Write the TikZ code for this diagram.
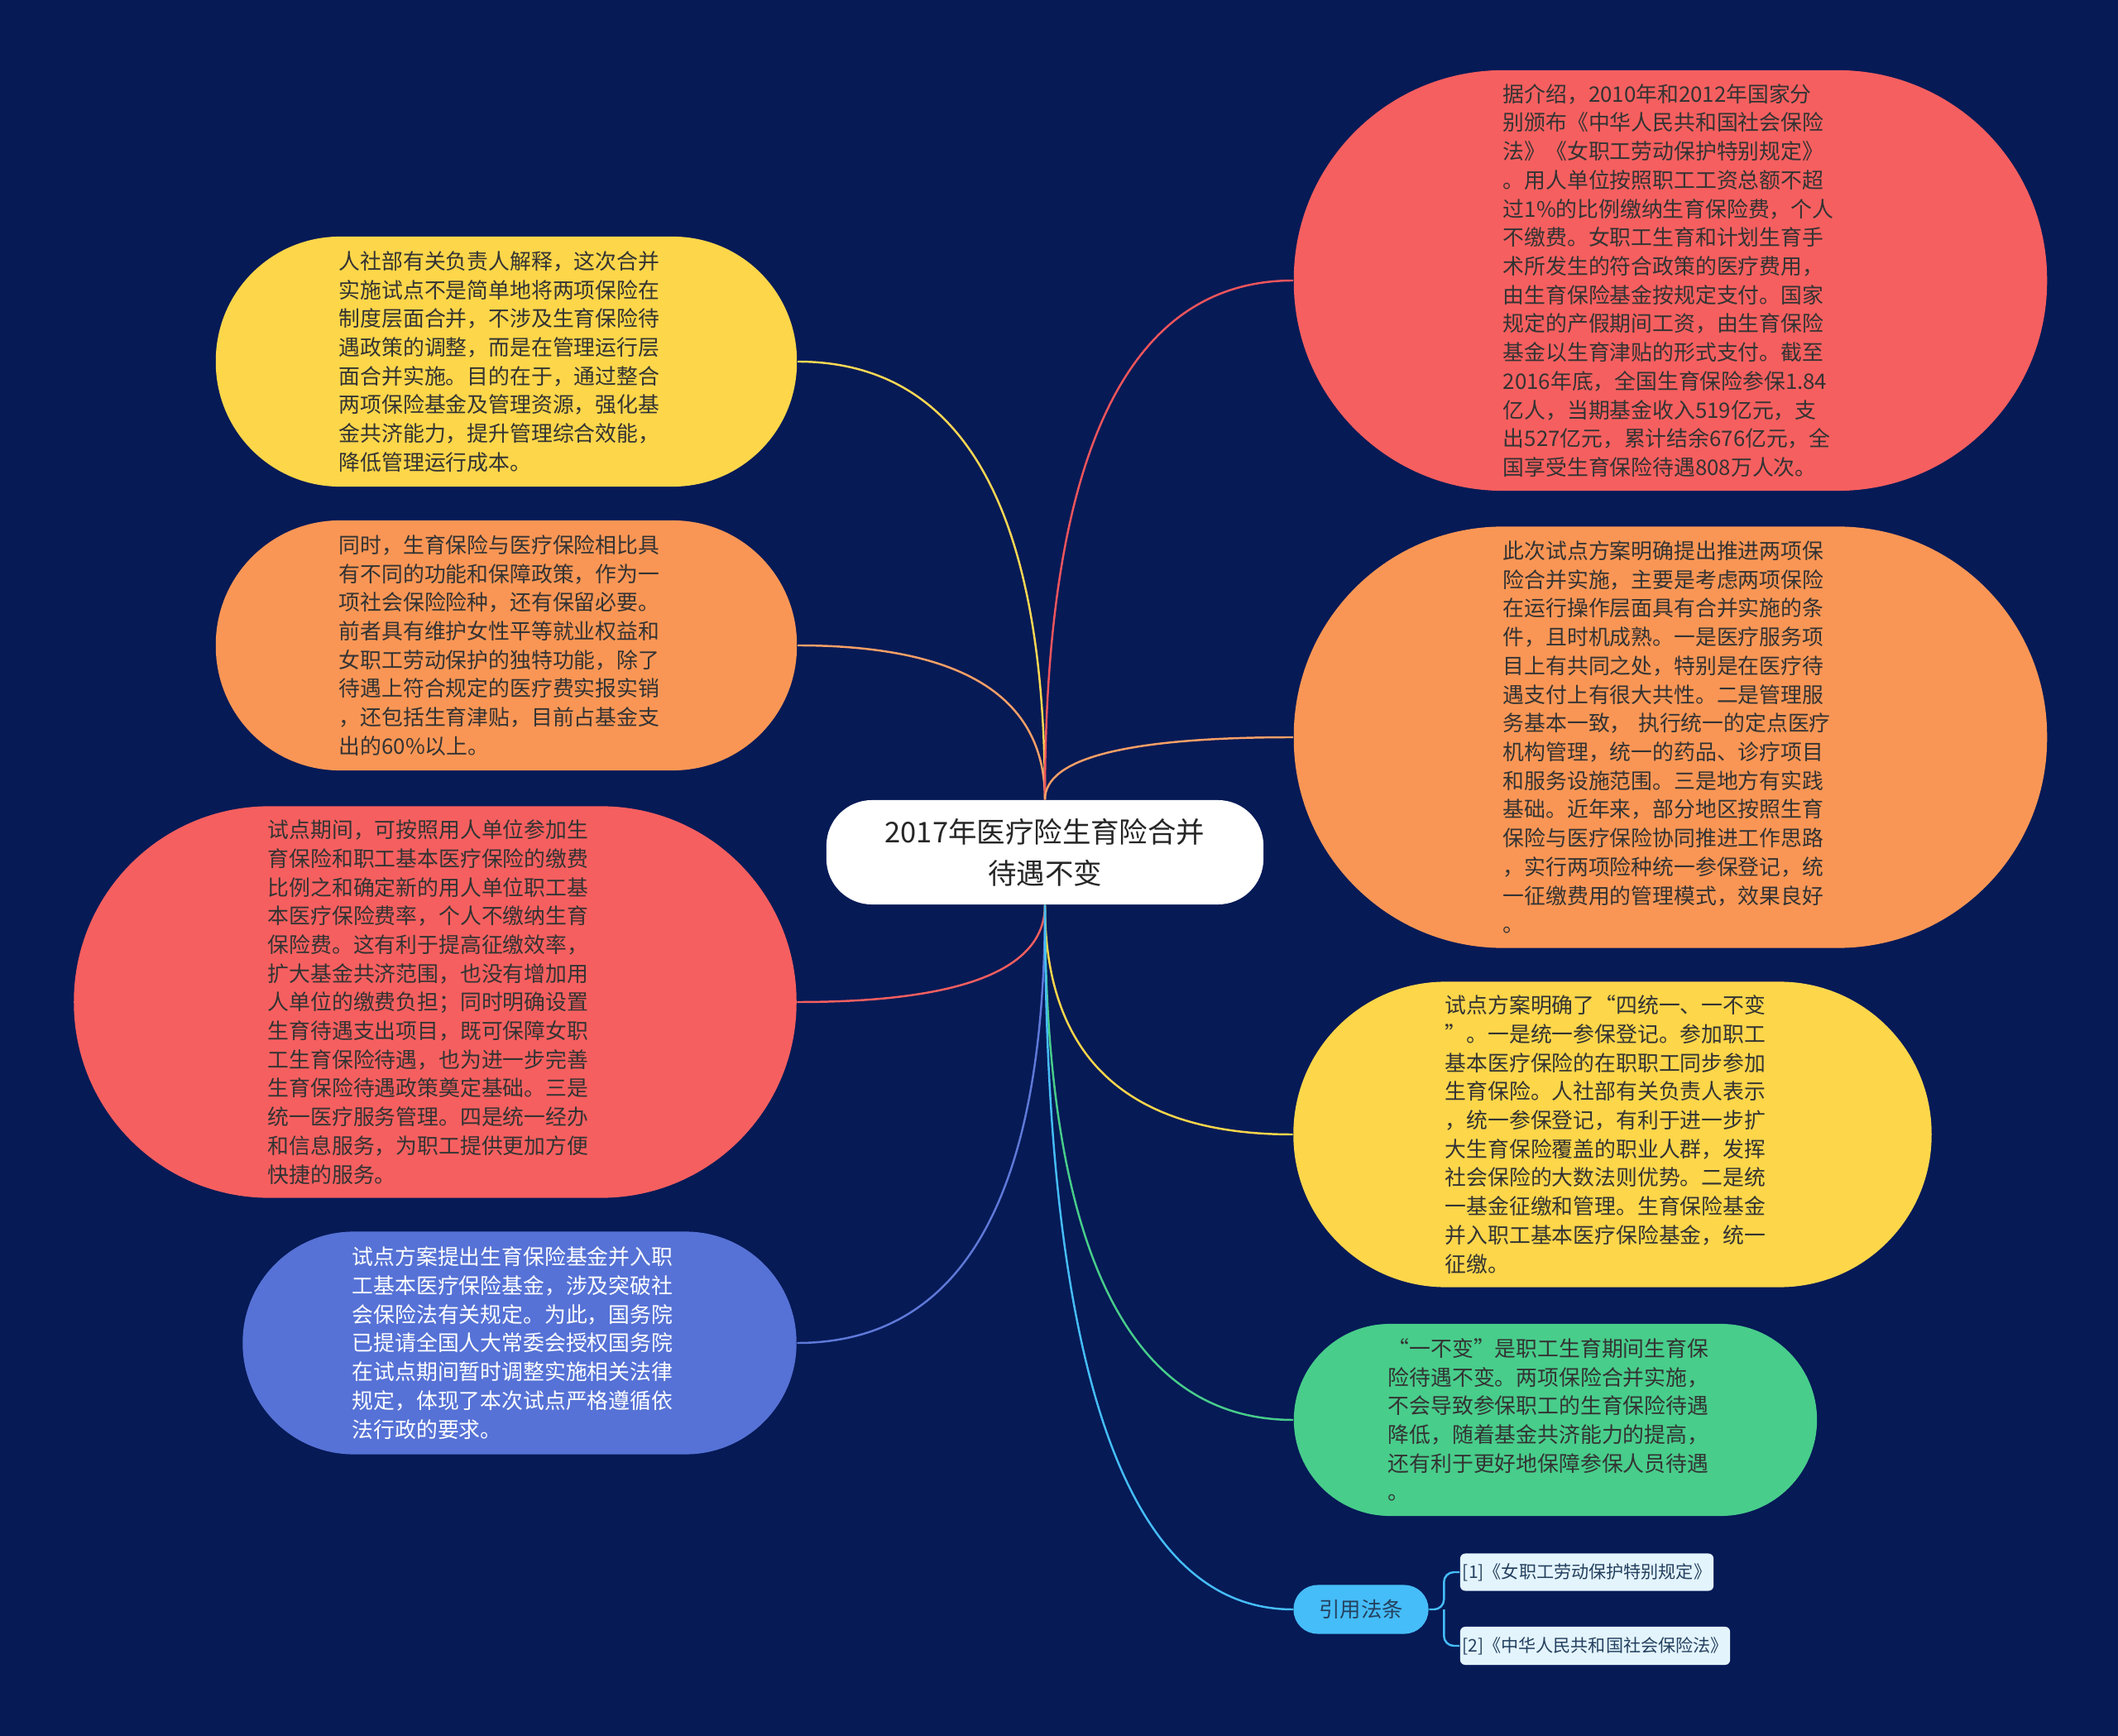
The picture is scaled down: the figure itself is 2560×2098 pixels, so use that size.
\documentclass[tikz,border=0pt]{standalone}
\usepackage{fontspec}
\setmainfont{Noto Sans CJK SC}
\usetikzlibrary{calc}

\definecolor{fondo}{HTML}{061A56}
\definecolor{rojo}{HTML}{F65F5F}
\definecolor{naranja}{HTML}{FA9655}
\definecolor{amarillo}{HTML}{FDD64A}
\definecolor{azul}{HTML}{5672D6}
\definecolor{verde}{HTML}{48CD8B}
\definecolor{celeste}{HTML}{45BDF8}
\definecolor{citafondo}{HTML}{E3F4FD}
\definecolor{tinta}{HTML}{333333}
\definecolor{tintacita}{HTML}{24405E}

% rama curva del tema central a un nodo
\newcommand{\rama}[3]{%
  \draw[#1] (#2) .. controls ($(#2)!2/3!(#2 |- #3)$) and ($(#3)!2/3!(#2 |- #3)$) .. (#3);}

\begin{document}
\begin{tikzpicture}[x=0.01cm, y=-0.01cm,
  tema/.style={inner sep=0pt, align=left, text width=4.04cm, text=tinta,
    font=\fontsize{7.34pt}{9.87pt}\selectfont},
  enlace/.style={line width=0.7pt}]
  % fondo
  \fill[fondo] (0,0) rectangle (2560,2098);
  \useasboundingbox (0,0) rectangle (2560,2098);
  % tema central
  \node[fill=white, inner sep=0pt, rounded corners=0.55cm, minimum width=5.28cm,
    minimum height=1.26cm, align=center, text=black!85,
    font=\fontsize{9.8pt}{14.2pt}\selectfont] (centro) at (1263,1030)
    {2017年医疗险生育险合并\\待遇不变};
  % lado izquierdo
  \node[tema, fill=amarillo, minimum width=7.02cm, minimum height=3.02cm,
    rounded corners=1.5cm] (izq1) at (612,437)
    {人社部有关负责人解释，这次合并\\实施试点不是简单地将两项保险在\\制度层面合并，不涉及生育保险待\\遇政策的调整，而是在管理运行层\\面合并实施。目的在于，通过整合\\两项保险基金及管理资源，强化基\\金共济能力，提升管理综合效能，\\降低管理运行成本。};
  \node[tema, fill=naranja, minimum width=7.02cm, minimum height=3.02cm,
    rounded corners=1.5cm] (izq2) at (612,780)
    {同时，生育保险与医疗保险相比具\\有不同的功能和保障政策，作为一\\项社会保险险种，还有保留必要。\\前者具有维护女性平等就业权益和\\女职工劳动保护的独特功能，除了\\待遇上符合规定的医疗费实报实销\\，还包括生育津贴，目前占基金支\\出的60\%以上。};
  \node[tema, fill=rojo, minimum width=8.73cm, minimum height=4.73cm,
    rounded corners=2.36cm] (izq3) at (526,1211)
    {试点期间，可按照用人单位参加生\\育保险和职工基本医疗保险的缴费\\比例之和确定新的用人单位职工基\\本医疗保险费率，个人不缴纳生育\\保险费。这有利于提高征缴效率，\\扩大基金共济范围，也没有增加用\\人单位的缴费负担；同时明确设置\\生育待遇支出项目，既可保障女职\\工生育保险待遇，也为进一步完善\\生育保险待遇政策奠定基础。三是\\统一医疗服务管理。四是统一经办\\和信息服务，为职工提供更加方便\\快捷的服务。};
  \node[tema, fill=azul, text=white, minimum width=6.69cm, minimum height=2.69cm,
    rounded corners=1.34cm] (izq4) at (628,1623)
    {试点方案提出生育保险基金并入职\\工基本医疗保险基金，涉及突破社\\会保险法有关规定。为此，国务院\\已提请全国人大常委会授权国务院\\在试点期间暂时调整实施相关法律\\规定，体现了本次试点严格遵循依\\法行政的要求。};
  % lado derecho
  \node[tema, fill=rojo, minimum width=9.1cm, minimum height=5.08cm,
    rounded corners=2.53cm] (der1) at (2019,339)
    {据介绍，2010年和2012年国家分\\别颁布《中华人民共和国社会保险\\法》《女职工劳动保护特别规定》\\。用人单位按照职工工资总额不超\\过1\%的比例缴纳生育保险费，个人\\不缴费。女职工生育和计划生育手\\术所发生的符合政策的医疗费用，\\由生育保险基金按规定支付。国家\\规定的产假期间工资，由生育保险\\基金以生育津贴的形式支付。截至\\2016年底，全国生育保险参保1.84\\亿人，当期基金收入519亿元，支\\出527亿元，累计结余676亿元，全\\国享受生育保险待遇808万人次。};
  \node[tema, fill=naranja, minimum width=9.1cm, minimum height=5.09cm,
    rounded corners=2.53cm] (der2) at (2019,891)
    {此次试点方案明确提出推进两项保\\险合并实施，主要是考虑两项保险\\在运行操作层面具有合并实施的条\\件，且时机成熟。一是医疗服务项\\目上有共同之处，特别是在医疗待\\遇支付上有很大共性。二是管理服\\务基本一致，\ 执行统一的定点医疗\\机构管理，统一的药品、诊疗项目\\和服务设施范围。三是地方有实践\\基础。近年来，部分地区按照生育\\保险与医疗保险协同推进工作思路\\，实行两项险种统一参保登记，统\\一征缴费用的管理模式，效果良好\\。};
  \node[tema, fill=amarillo, minimum width=7.71cm, minimum height=3.69cm,
    rounded corners=1.84cm] (der3) at (1949,1371)
    {试点方案明确了“四统一、一不变\\”。一是统一参保登记。参加职工\\基本医疗保险的在职职工同步参加\\生育保险。人社部有关负责人表示\\，统一参保登记，有利于进一步扩\\大生育保险覆盖的职业人群，发挥\\社会保险的大数法则优势。二是统\\一基金征缴和管理。生育保险基金\\并入职工基本医疗保险基金，统一\\征缴。};
  \node[tema, fill=verde, minimum width=6.32cm, minimum height=2.32cm,
    rounded corners=1.16cm] (der4) at (1880,1716)
    {“一不变”是职工生育期间生育保\\险待遇不变。两项保险合并实施，\\不会导致参保职工的生育保险待遇\\降低，随着基金共济能力的提高，\\还有利于更好地保障参保人员待遇\\。};
  % citas
  \node[fill=celeste, inner sep=0pt, minimum width=1.63cm, minimum height=0.59cm,
    rounded corners=0.29cm, text=tintacita,
    font=\fontsize{7.2pt}{9pt}\selectfont] (ley) at (1645,1945) {引用法条};
  \node[fill=citafondo, inner sep=0pt, minimum width=3.06cm, minimum height=0.45cm,
    rounded corners=0.06cm, text=tintacita,
    font=\fontsize{6pt}{7pt}\selectfont] (cita1) at (1918,1900)
    {[1]《女职工劳动保护特别规定》};
  \node[fill=citafondo, inner sep=0pt, minimum width=3.26cm, minimum height=0.46cm,
    rounded corners=0.06cm, text=tintacita,
    font=\fontsize{6pt}{7pt}\selectfont] (cita2) at (1928,1989)
    {[2]《中华人民共和国社会保险法》};
  % ramas
  \rama{enlace, amarillo!95!white}{centro.north}{izq1.east}
  \rama{enlace, naranja!90!white}{centro.north}{izq2.east}
  \rama{enlace, rojo!90!purple}{centro.north}{der1.west}
  \rama{enlace, naranja!90!white}{centro.north}{der2.west}
  \rama{enlace, rojo}{centro.south}{izq3.east}
  \rama{enlace, azul!95!white}{centro.south}{izq4.east}
  \rama{enlace, amarillo}{centro.south}{der3.west}
  \rama{enlace, verde}{centro.south}{der4.west}
  \rama{enlace, celeste}{centro.south}{ley.west}
  % horquilla de las citas
  \coordinate (horquilla) at ($(ley.east)+(18,0)$);
  \draw[enlace, celeste, rounded corners=0.12cm] (ley.east) -- (horquilla) |- (cita1.west);
  \draw[enlace, celeste, rounded corners=0.12cm] (horquilla) |- (cita2.west);
\end{tikzpicture}
\end{document}
